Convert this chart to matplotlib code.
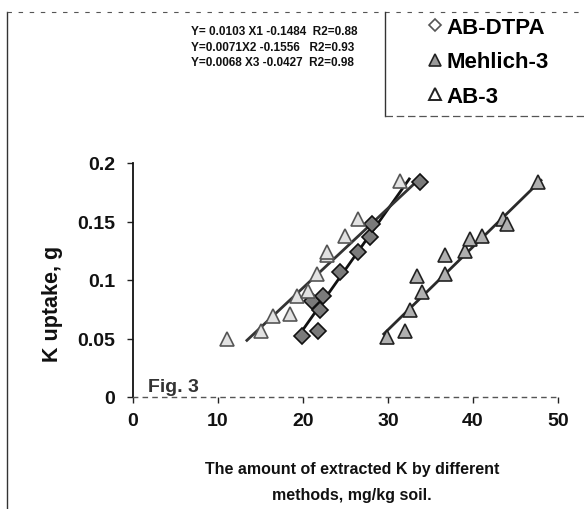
import matplotlib
matplotlib.use("Agg")
import matplotlib.pyplot as plt
from matplotlib.lines import Line2D
from matplotlib.ticker import FuncFormatter
import numpy as np

plt.rcParams['font.family'] = ['Liberation Sans', 'DejaVu Sans']
plt.rcParams['font.weight'] = 'bold'

# ---- data ----
dtpa_x = [19.9, 21.8, 22.0, 21.0, 22.4, 24.4, 26.5, 27.9, 28.1, 33.8]
dtpa_y = [0.052, 0.056, 0.074, 0.082, 0.086, 0.107, 0.124, 0.137, 0.148, 0.184]

mehlich_x = [29.9, 32.0, 32.6, 34.0, 33.4, 36.7, 36.7, 39.1, 39.6, 41.1, 43.5, 44.0, 47.6]
mehlich_y = [0.051, 0.056, 0.074, 0.090, 0.103, 0.105, 0.121, 0.125, 0.135, 0.138, 0.152, 0.148, 0.184]

ab3_x = [11.1, 15.1, 16.5, 18.5, 19.3, 20.6, 21.6, 22.8, 22.8, 24.9, 26.5, 31.4]
ab3_y = [0.050, 0.056, 0.069, 0.071, 0.086, 0.091, 0.105, 0.121, 0.124, 0.138, 0.152, 0.185]

# regression equations shown on the chart
slopes = [0.0103, 0.0071, 0.0068]
intercepts = [-0.1484, -0.1556, -0.0427]
line_ranges = [(19.5, 32.5), (29.5, 48.0), (13.4, 33.5)]
equations = ["Y= 0.0103 X1 -0.1484  R2=0.88",
             "Y=0.0071X2 -0.1556   R2=0.93",
             "Y=0.0068 X3 -0.0427  R2=0.98"]
series_names = ["AB-DTPA", "Mehlich-3", "AB-3"]

x_ticks = [0, 10, 20, 30, 40, 50]
y_ticks = [0, 0.05, 0.1, 0.15, 0.2]

W, H = 584, 510
fig = plt.figure(figsize=(W / 100, H / 100), dpi=100)
ax = fig.add_axes([133 / W, 1 - 398 / H, (558 - 133) / W, (398 - 164) / H])

styles = [
    dict(marker='D', ms=8, mfc='#7a7a7a', mec='#111111', mew=1.2),
    dict(marker='^', ms=10, mfc='#b0b0b0', mec='#222222', mew=1.2),
    dict(marker='^', ms=10, mfc='#e2e2e2', mec='#555555', mew=1.2),
]
line_cols = ['#111111', '#2a2a2a', '#333333']

xs = [dtpa_x, mehlich_x, ab3_x]
ys = [dtpa_y, mehlich_y, ab3_y]
for i in range(3):
    x0, x1 = line_ranges[i]
    lx = np.array([x0, x1])
    ax.plot(lx, slopes[i] * lx + intercepts[i], color=line_cols[i], lw=2.0, zorder=2)
    ax.plot(xs[i], ys[i], ls='none', zorder=3, **styles[i])

ax.set_xlim(0, 50)
ax.set_ylim(0, 0.2)
ax.set_xticks(x_ticks)
ax.set_yticks(y_ticks)
ax.yaxis.set_major_formatter(FuncFormatter(lambda v, p: f"{v:g}"))
for s in ['top', 'right']:
    ax.spines[s].set_visible(False)
ax.spines['left'].set_color('#111111')
ax.spines['left'].set_linewidth(1.3)
ax.spines['bottom'].set_color('#555555')
ax.spines['bottom'].set_linewidth(1.0)
ax.spines['bottom'].set_linestyle((0, (3, 4)))
ax.tick_params(axis='both', direction='out', length=4, width=1, colors='#222222',
               labelsize=14, labelcolor='#111111')
ax.tick_params(axis='x', pad=7)
ax.tick_params(axis='y', pad=9)
for lab in ax.get_xticklabels() + ax.get_yticklabels():
    lab.set_fontweight('bold')

ax.set_xlabel("The amount of extracted K by different\nmethods, mg/kg soil.",
              fontsize=11.5, fontweight='bold', linespacing=1.85, color='#111111')
ax.xaxis.set_label_coords(0.515, -0.275)
ax.set_ylabel("K uptake, g", fontsize=15.5, fontweight='bold', color='#111111')
ax.yaxis.set_label_coords(-0.165, 0.40)

ax.text(0.035, 0.045, "Fig. 3", transform=ax.transAxes, fontsize=14,
        fontweight='bold', color='#333333', va='center', ha='left')

# equations
for k, (eq, yy) in enumerate(zip(equations, [32, 48, 63])):
    fig.text(191 / W, 1 - yy / H, eq, fontsize=8.5, fontweight='bold',
             va='center', ha='left', color='#111111')

# legend
handles = [Line2D([], [], ls='none', marker='D', ms=6, mfc='white', mec='#555555', mew=1.2),
           Line2D([], [], ls='none', marker='^', ms=8, mfc='#9a9a9a', mec='#222222', mew=1.2),
           Line2D([], [], ls='none', marker='^', ms=8, mfc='white', mec='#222222', mew=1.4)]
fig.legend(handles, series_names, loc='upper left', bbox_to_anchor=(428 / W, 1 - 18 / H),
           frameon=False, handlelength=0.6, handletextpad=0.25, labelspacing=0.6,
           borderpad=0, borderaxespad=0,
           prop=dict(family='Liberation Sans', weight='bold', size=16))

# scanned frame lines
fc = '#555555'
fig.add_artist(Line2D([7 / W, 7 / W], [0, 1 - 13 / H], transform=fig.transFigure,
                      color='#333333', lw=1.0))
fig.add_artist(Line2D([7 / W, 1], [1 - 13 / H, 1 - 13 / H], transform=fig.transFigure,
                      color=fc, lw=0.8, ls=(0, (4, 6))))
fig.add_artist(Line2D([385 / W, 385 / W], [1 - 13 / H, 1 - 117 / H], transform=fig.transFigure,
                      color='#333333', lw=1.0))
fig.add_artist(Line2D([385 / W, 1], [1 - 117 / H, 1 - 117 / H], transform=fig.transFigure,
                      color=fc, lw=0.9, ls=(0, (6, 3))))

fig.savefig("out.png", dpi=100)
